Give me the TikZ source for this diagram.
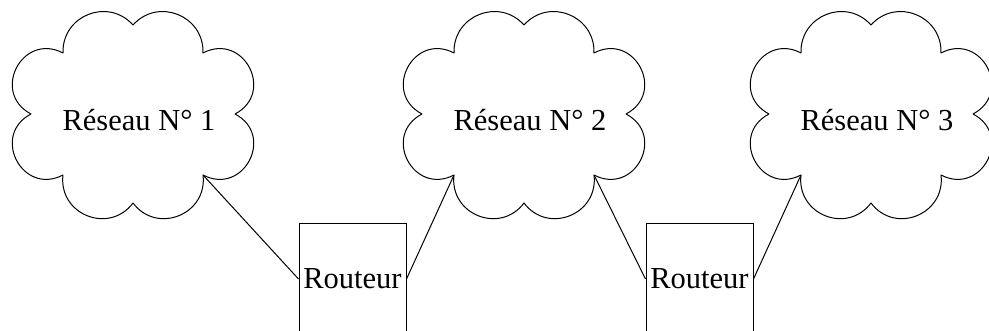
\documentclass[tikz,border=0pt]{standalone}
\usepackage{fontspec}
\setmainfont{Liberation Serif}
\begin{document}
\begin{tikzpicture}[x=0.4pt,y=0.4pt,font=\fontsize{12.2}{14}\selectfont,
    bosse/.style={bend right=70,looseness=1.27},
    bossebas/.style={bend right=75,looseness=1.35},
    flanc/.style={bend right=90,looseness=1.7},
    routeur/.style={draw,inner sep=0pt,minimum width=42.8pt,minimum height=44pt},
    nuage/.pic={
      \coordinate (-r) at (102,0);
      \coordinate (-tr) at (70,61);
      \coordinate (-t) at (0,89);
      \coordinate (-tl) at (-70,61);
      \coordinate (-l) at (-102,0);
      \coordinate (-bl) at (-70,-61);
      \coordinate (-b) at (0,-89);
      \coordinate (-br) at (70,-61);
      \draw[line join=round] (-r) to[flanc] (-tr) to[bosse] (-t) to[bosse] (-tl)
        to[flanc] (-l) to[flanc] (-bl) to[bossebas] (-b) to[bossebas] (-br) to[flanc] (-r);
      \node (-txt) at (6,-6) {#1};
    }]
  \useasboundingbox (0,0) rectangle (989,331);
  % les trois reseaux
  \pic (n1) at (133,217) {nuage={Réseau N° 1}};
  \pic (n2) at (524,217) {nuage={Réseau N° 2}};
  \pic (n3) at (871,217) {nuage={Réseau N° 3}};
  % les routeurs
  \node[routeur] (r1) at (352.5,52) {Routeur};
  \node[routeur] (r2) at (699.5,52) {Routeur};
  \draw (n1-br) -- (r1.west);
  \draw (r1.east) -- (n2-bl);
  \draw (n2-br) -- (r2.west);
  \draw (r2.east) -- (n3-bl);
\end{tikzpicture}
\end{document}
